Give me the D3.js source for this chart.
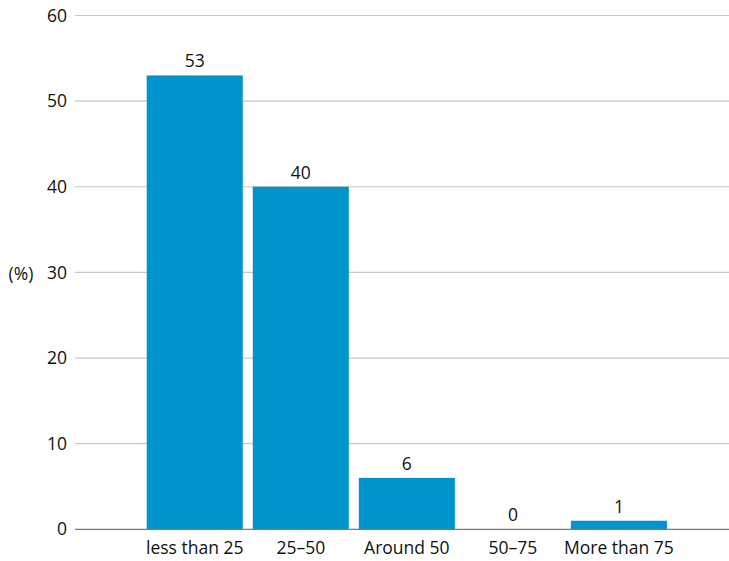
<!DOCTYPE html>
<html><head><meta charset="utf-8">
<script src="https://cdn.jsdelivr.net/npm/d3@7"></script>
<style>body{margin:0;background:#fff;} text{font-family:"Open Sans","Noto Sans",sans-serif;fill:#111;}</style>
</head><body>
<svg id="c" width="729" height="561"></svg>
<script>
const categories = ["less than 25", "25–50", "Around 50", "50–75", "More than 75"];
const values = [53, 40, 6, 0, 1];
const yTicks = [0, 10, 20, 30, 40, 50, 60];
const yLabel = "(%)";

const svg = d3.select("#c");
const y = d3.scaleLinear().domain([0, 60]).range([529.3, 15.5]);
const x = d3.scaleBand().domain(categories).range([141.7, 672]).paddingInner(0.0943).paddingOuter(0.0472);
const fs = 17.5;

const gx0 = 75, gx1 = 729;
svg.append("g").selectAll("line").data(yTicks.filter(d => d > 0)).join("line")
  .attr("x1", gx0).attr("x2", gx1)
  .attr("y1", d => y(d)).attr("y2", d => y(d))
  .attr("stroke", "#c8c8c8").attr("stroke-width", 1.2);

svg.append("g").selectAll("text").data(yTicks).join("text")
  .attr("x", 67).attr("y", d => y(d)).attr("dy", "0.35em")
  .attr("text-anchor", "end").attr("font-size", fs).text(d => d);

svg.append("text").attr("x", 21).attr("y", 273).attr("dy", "0.38em")
  .attr("text-anchor", "middle").attr("font-size", fs).text(yLabel);

svg.append("g").selectAll("rect").data(values).join("rect")
  .attr("x", (d, i) => x(categories[i])).attr("width", x.bandwidth())
  .attr("y", d => y(d)).attr("height", d => y(0) - y(d))
  .attr("fill", "#0094cc");

svg.append("line").attr("x1", gx0).attr("x2", gx1).attr("y1", y(0)).attr("y2", y(0))
  .attr("stroke", "#7a7a7a").attr("stroke-width", 1.2);

svg.append("g").selectAll("text").data(values).join("text")
  .attr("x", (d, i) => x(categories[i]) + x.bandwidth() / 2)
  .attr("y", d => y(d) - 8).attr("text-anchor", "middle").attr("font-size", fs).text(d => d);

svg.append("g").selectAll("text").data(categories).join("text")
  .attr("x", d => x(d) + x.bandwidth() / 2).attr("y", 554)
  .attr("text-anchor", "middle").attr("font-size", fs).text(d => d);
</script>
</body></html>
